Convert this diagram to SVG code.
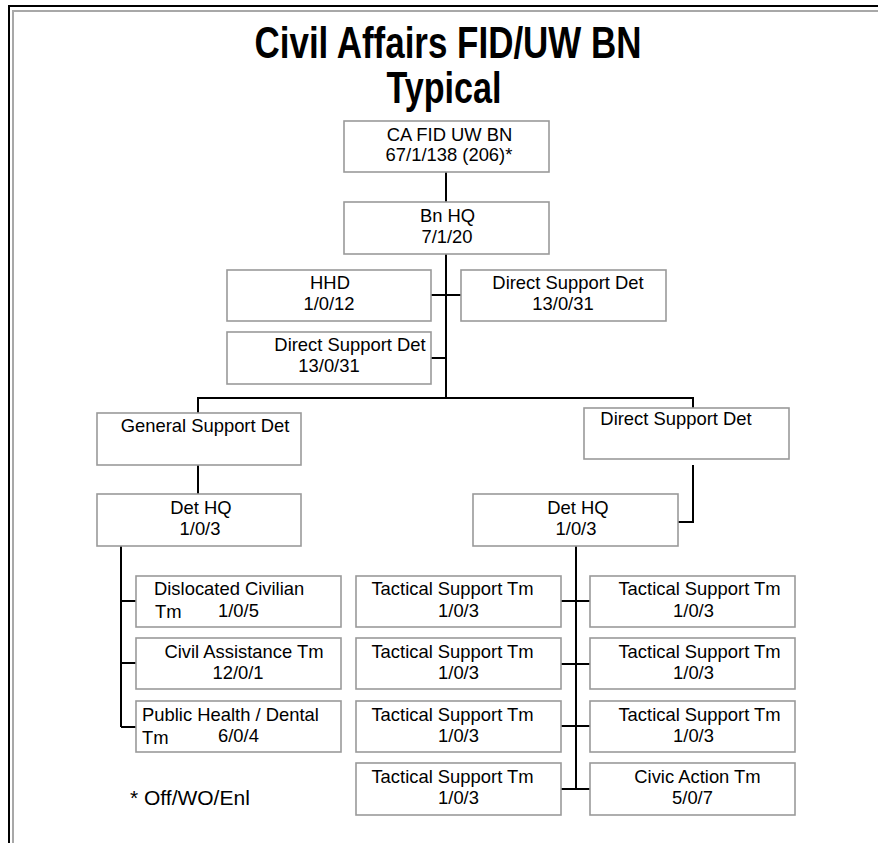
<svg xmlns="http://www.w3.org/2000/svg" width="878" height="843" viewBox="0 0 878 843">
  <style>
    .box { fill: #ffffff; stroke: #9a9a9a; stroke-width: 1.6; }
    .lbl { font-family: "Liberation Sans", Arial, sans-serif; font-size: 18.4px; fill: #000000; }
    .mid { text-anchor: middle; }
    .title { font-family: "Liberation Sans", Arial, sans-serif; font-size: 44px; font-weight: bold; fill: #000000; text-anchor: middle; }
    .conn { fill: none; stroke: #000000; stroke-width: 2; }
  </style>

  <!-- page background and frame -->
  <rect x="0" y="0" width="878" height="843" fill="#ffffff"/>
  <path d="M9,843 V6 H878" fill="none" stroke="#000000" stroke-width="2"/>
  <path d="M13,843 V11 H878" fill="none" stroke="#a8a8a8" stroke-width="2"/>

  <!-- title -->
  <g id="title">
    <text class="title" x="448" y="58" textLength="387" lengthAdjust="spacingAndGlyphs">Civil Affairs FID/UW BN</text>
    <text class="title" x="444" y="103" textLength="115" lengthAdjust="spacingAndGlyphs">Typical</text>
  </g>

  <!-- connectors -->
  <g id="connectors">
    <path class="conn" d="M446,172 V202"/>
    <path class="conn" d="M446,254 V398"/>
    <path class="conn" d="M431,295 H461"/>
    <path class="conn" d="M431,358 H446"/>
    <path class="conn" d="M198,413 V398 H693 V412"/>
    <path class="conn" d="M198,465 V494"/>
    <path class="conn" d="M693,465 V522 H678"/>
    <path class="conn" d="M121,546 V727"/>
    <path class="conn" d="M121,601 H136"/>
    <path class="conn" d="M121,663 H136"/>
    <path class="conn" d="M121,727 H136"/>
    <path class="conn" d="M576,546 V790"/>
    <path class="conn" d="M561,601 H590"/>
    <path class="conn" d="M561,664 H590"/>
    <path class="conn" d="M561,726 H590"/>
    <path class="conn" d="M561,789 H590"/>
  </g>

  <!-- battalion level -->
  <g id="ca-fid-uw-bn">
    <rect class="box" x="344" y="121" width="205" height="51"/>
    <text class="lbl mid" x="449.5" y="141">CA FID UW BN</text>
    <text class="lbl mid" x="449" y="161">67/1/138 (206)*</text>
  </g>
  <g id="bn-hq">
    <rect class="box" x="344" y="202" width="205" height="52"/>
    <text class="lbl mid" x="447.5" y="222">Bn HQ</text>
    <text class="lbl mid" x="447" y="243">7/1/20</text>
  </g>
  <g id="hhd">
    <rect class="box" x="227" y="270" width="204" height="51"/>
    <text class="lbl mid" x="330" y="289">HHD</text>
    <text class="lbl mid" x="329" y="310">1/0/12</text>
  </g>
  <g id="dsd-upper-right">
    <rect class="box" x="461" y="270" width="205" height="51"/>
    <text class="lbl mid" x="568" y="289">Direct Support Det</text>
    <text class="lbl mid" x="563" y="310">13/0/31</text>
  </g>
  <g id="dsd-upper-left">
    <rect class="box" x="227" y="332" width="204" height="52"/>
    <text class="lbl mid" x="350" y="351">Direct Support Det</text>
    <text class="lbl mid" x="329" y="372">13/0/31</text>
  </g>

  <!-- general support detachment -->
  <g id="gsd">
    <rect class="box" x="97" y="413" width="204" height="52"/>
    <text class="lbl mid" x="205" y="432">General Support Det</text>
  </g>
  <g id="gsd-hq">
    <rect class="box" x="97" y="494" width="204" height="52"/>
    <text class="lbl mid" x="201" y="514">Det HQ</text>
    <text class="lbl mid" x="200" y="535">1/0/3</text>
  </g>
  <g id="dislocated-civilian">
    <rect class="box" x="136" y="576" width="205" height="51"/>
    <text class="lbl" x="154" y="595">Dislocated Civilian</text>
    <text class="lbl" x="155" y="618">Tm</text>
    <text class="lbl" x="218" y="617">1/0/5</text>
  </g>
  <g id="civil-assistance">
    <rect class="box" x="136" y="638" width="205" height="51"/>
    <text class="lbl mid" x="244" y="658">Civil Assistance Tm</text>
    <text class="lbl mid" x="238" y="679">12/0/1</text>
  </g>
  <g id="public-health">
    <rect class="box" x="136" y="701" width="205" height="51"/>
    <text class="lbl" x="142" y="721">Public Health / Dental</text>
    <text class="lbl" x="142" y="744">Tm</text>
    <text class="lbl" x="218" y="742">6/0/4</text>
  </g>

  <!-- direct support detachment -->
  <g id="dsd">
    <rect class="box" x="584" y="408" width="205" height="51"/>
    <text class="lbl mid" x="676" y="425">Direct Support Det</text>
  </g>
  <g id="dsd-hq">
    <rect class="box" x="473" y="494" width="205" height="52"/>
    <text class="lbl mid" x="578" y="514">Det HQ</text>
    <text class="lbl mid" x="576" y="535">1/0/3</text>
  </g>
  <g id="tst-l1">
    <rect class="box" x="356" y="576" width="205" height="51"/>
    <text class="lbl mid" x="452.5" y="595">Tactical Support Tm</text>
    <text class="lbl mid" x="458.5" y="617">1/0/3</text>
  </g>
  <g id="tst-l2">
    <rect class="box" x="356" y="638" width="205" height="51"/>
    <text class="lbl mid" x="452.5" y="658">Tactical Support Tm</text>
    <text class="lbl mid" x="458.5" y="679">1/0/3</text>
  </g>
  <g id="tst-l3">
    <rect class="box" x="356" y="701" width="205" height="51"/>
    <text class="lbl mid" x="452.5" y="721">Tactical Support Tm</text>
    <text class="lbl mid" x="458.5" y="742">1/0/3</text>
  </g>
  <g id="tst-l4">
    <rect class="box" x="356" y="763" width="205" height="52"/>
    <text class="lbl mid" x="452.5" y="783">Tactical Support Tm</text>
    <text class="lbl mid" x="458.5" y="804">1/0/3</text>
  </g>
  <g id="tst-r1">
    <rect class="box" x="590" y="576" width="205" height="51"/>
    <text class="lbl mid" x="699.5" y="595">Tactical Support Tm</text>
    <text class="lbl mid" x="693.5" y="617">1/0/3</text>
  </g>
  <g id="tst-r2">
    <rect class="box" x="590" y="638" width="205" height="51"/>
    <text class="lbl mid" x="699.5" y="658">Tactical Support Tm</text>
    <text class="lbl mid" x="693.5" y="679">1/0/3</text>
  </g>
  <g id="tst-r3">
    <rect class="box" x="590" y="701" width="205" height="51"/>
    <text class="lbl mid" x="699.5" y="721">Tactical Support Tm</text>
    <text class="lbl mid" x="693.5" y="742">1/0/3</text>
  </g>
  <g id="civic-action">
    <rect class="box" x="590" y="763" width="205" height="52"/>
    <text class="lbl mid" x="697.5" y="783">Civic Action Tm</text>
    <text class="lbl mid" x="692.5" y="804">5/0/7</text>
  </g>

  <!-- legend -->
  <g id="legend">
    <text class="lbl" x="130" y="805" style="font-size:21px">* Off/WO/Enl</text>
  </g>
</svg>
